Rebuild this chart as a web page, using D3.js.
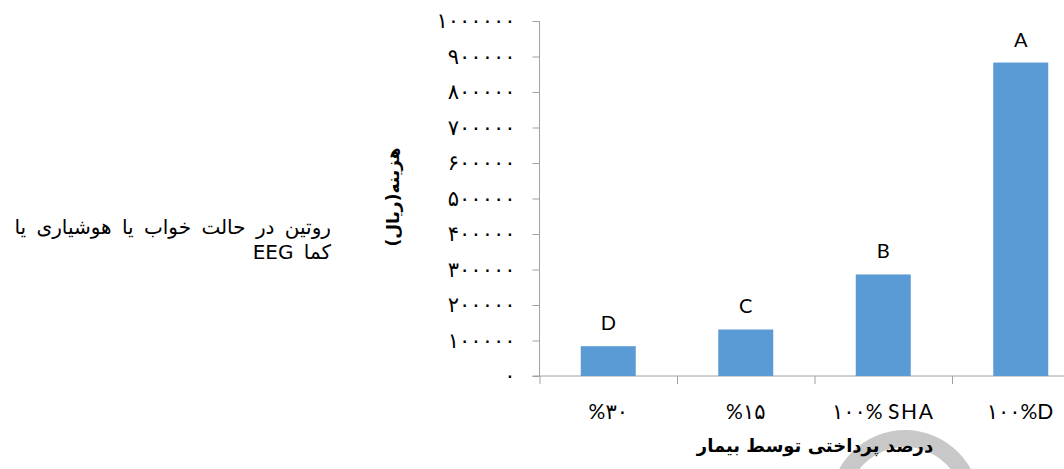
<!DOCTYPE html>
<html>
<head>
<meta charset="utf-8">
<script src="https://cdn.jsdelivr.net/npm/d3@7"></script>
<style>
  body { margin: 0; background: #fff; }
  svg { display: block; }
  .fa { font-family: "DejaVu Sans", sans-serif; }
  .lat { font-family: Lato, "DejaVu Sans", sans-serif; }
</style>
</head>
<body>
<svg id="chart"></svg>
<script>
// categories on the x axis (patient payment share)
const categories = ["%۳۰", "%۱۵", "۱۰۰% SHA", "۱۰۰%D"];
// cost in rial
const costs = [84000, 131000, 286000, 883000];
// letter shown above each bar
const groupLetters = ["D", "C", "B", "A"];
// y tick values
const yTicks = [0, 100000, 200000, 300000, 400000, 500000, 600000, 700000, 800000, 900000, 1000000];

const yTitle = "هزینه(ریال)";
const xTitle = "درصد پرداختی توسط بیمار";
const noteLines = ["روتین در حالت خواب یا هوشیاری یا", "کما EEG"];

const W = 1064, H = 469;
const margin = { top: 21, left: 539.5 };
const width = 550;
const height = 355;

const toFa = (s) => String(s).replace(/[0-9]/g, (d) => "۰۱۲۳۴۵۶۷۸۹"[+d]);

const svg = d3.select("#chart").attr("width", W).attr("height", H);

// watermark ring behind the x title
const ring = d3.arc().innerRadius(58).outerRadius(75).startAngle(-Math.PI / 2).endAngle(Math.PI / 2);
svg.append("path")
  .attr("d", ring())
  .attr("transform", "translate(905,505)")
  .attr("fill", "#c8c8c8");

const g = svg.append("g").attr("transform", `translate(${margin.left},${margin.top})`);

// scales
const x = d3.scaleBand().domain(categories).range([0, width]).paddingInner(0.6).paddingOuter(0.3);
const y = d3.scaleLinear().domain([0, 1000000]).range([height, 0]);
const xEdges = d3.scaleLinear().domain([0, categories.length]).range([0, width]);

// y axis
const yaxis = d3.axisLeft(y).tickValues(yTicks).tickSize(7).tickPadding(17).tickFormat((d) => toFa(d));
const g_yaxis = g.append("g").call(yaxis);
g_yaxis.select(".domain").attr("stroke", "#a0a0a0").attr("d", `M0,0V${height}`);
g_yaxis.selectAll(".tick line").attr("stroke", "#a0a0a0");
g_yaxis.selectAll(".tick text")
  .attr("class", "fa")
  .style("font-size", "21px")
  .style("letter-spacing", "7.3px")
  .attr("fill", "#000");

// x axis: ticks on category edges
const xaxis = d3.axisBottom(xEdges).ticks(categories.length).tickSize(8).tickFormat("");
const g_xaxis = g.append("g").attr("transform", `translate(0,${height})`).call(xaxis);
g_xaxis.select(".domain").attr("stroke", "#a0a0a0").attr("d", `M-7,0H${width}`);
g_xaxis.selectAll(".tick line").attr("stroke", "#a0a0a0");

// bars
g.selectAll("rect.bar")
  .data(costs)
  .join("rect")
  .attr("class", "bar")
  .attr("x", (d, i) => x(categories[i]))
  .attr("y", (d) => y(d))
  .attr("width", x.bandwidth())
  .attr("height", (d) => height - y(d))
  .attr("fill", "#5b9bd5");

// letters above bars
g.selectAll("text.letter")
  .data(costs)
  .join("text")
  .attr("class", "letter lat")
  .attr("x", (d, i) => x(categories[i]) + x.bandwidth() / 2)
  .attr("y", (d) => y(d) - 16)
  .attr("text-anchor", "middle")
  .style("font-size", "20px")
  .attr("fill", "#000")
  .text((d, i) => groupLetters[i]);

// category labels
g.selectAll("text.cat")
  .data(categories)
  .join("text")
  .attr("class", "cat lat")
  .attr("x", (d) => x(d) + x.bandwidth() / 2)
  .attr("y", height + 43)
  .attr("text-anchor", "middle")
  .attr("direction", "ltr")
  .style("font-size", "21px")
  .style("letter-spacing", "1.6px")
  .attr("fill", "#000")
  .text((d) => d);

// axis titles
svg.append("text")
  .attr("class", "fa")
  .attr("transform", "translate(399,197) rotate(-90)")
  .attr("text-anchor", "middle")
  .attr("direction", "rtl")
  .style("font-size", "17px")
  .style("font-weight", "bold")
  .text(yTitle);

svg.append("text")
  .attr("class", "fa")
  .attr("x", 815)
  .attr("y", 452)
  .attr("text-anchor", "middle")
  .attr("direction", "rtl")
  .style("font-size", "18px")
  .style("font-weight", "bold")
  .text(xTitle);

// note on the left
svg.selectAll("text.note")
  .data(noteLines)
  .join("text")
  .attr("class", "note fa")
  .attr("x", 331)
  .attr("y", (d, i) => 234 + i * 25)
  .attr("direction", "rtl")
  .attr("text-anchor", "start")
  .style("font-size", "20px")
  .style("word-spacing", "4px")
  .text((d) => d);
</script>
</body>
</html>
